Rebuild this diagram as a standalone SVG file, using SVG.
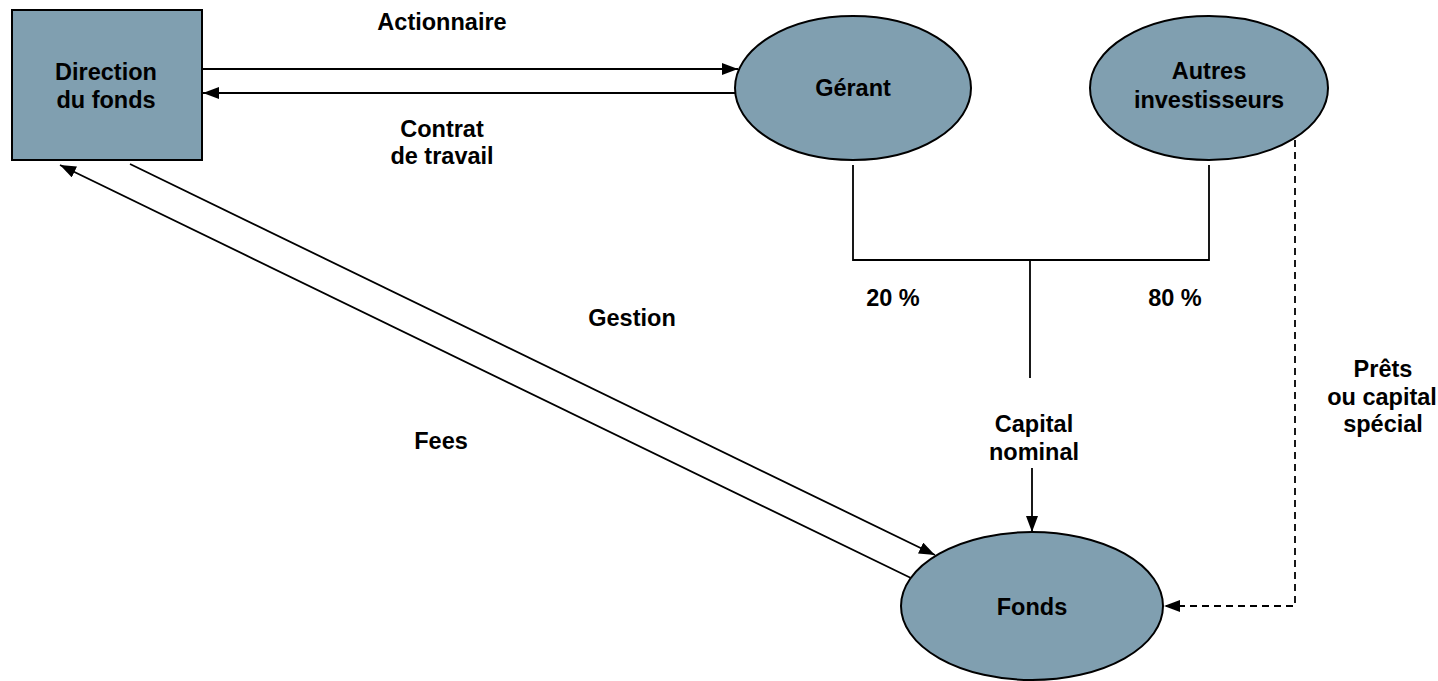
<svg xmlns="http://www.w3.org/2000/svg" width="1438" height="681" viewBox="0 0 1438 681">
<style>
.node{fill:#809FB0;stroke:#000;stroke-width:2}
.t{font-family:"Liberation Sans",Arial,sans-serif;font-weight:bold;font-size:23.5px;fill:#000;text-anchor:middle}
.c{fill:none;stroke:#000;stroke-width:1.8}
.d{fill:none;stroke:#000;stroke-width:1.8;stroke-dasharray:7,5}
</style>
<defs>
<marker id="ah" viewBox="0 0 16 12" refX="16" refY="6" markerWidth="16" markerHeight="12" markerUnits="userSpaceOnUse" orient="auto">
<path d="M0,0 L16,6 L0,12 Z" fill="#000"/>
</marker>
</defs>
<rect width="1438" height="681" fill="#fff"/>
<g id="connectors">
<line class="c" x1="202" y1="69" x2="738" y2="69" marker-end="url(#ah)"/>
<line class="c" x1="735" y1="93" x2="203" y2="93" marker-end="url(#ah)"/>
<line class="c" x1="130" y1="164" x2="935" y2="555" marker-end="url(#ah)"/>
<line class="c" x1="913" y1="579" x2="60" y2="165" marker-end="url(#ah)"/>
<polyline class="c" points="853,165 853,260 1209,260 1209,165"/>
<line class="c" x1="1030" y1="260" x2="1030" y2="378"/>
<line class="c" x1="1032" y1="468" x2="1032" y2="532" marker-end="url(#ah)"/>
<polyline class="d" points="1295,140 1295,606 1164,606" marker-end="url(#ah)"/>
</g>
<g id="direction">
<rect class="node" x="12" y="10" width="190" height="150"/>
<text class="t" x="106" y="80">Direction</text>
<text class="t" x="106" y="108">du fonds</text>
</g>
<g id="gerant">
<ellipse class="node" cx="853" cy="88" rx="118" ry="72"/>
<text class="t" x="853" y="96">Gérant</text>
</g>
<g id="autres">
<ellipse class="node" cx="1209" cy="88" rx="119" ry="72"/>
<text class="t" x="1209" y="79">Autres</text>
<text class="t" x="1209" y="108">investisseurs</text>
</g>
<g id="fonds">
<ellipse class="node" cx="1032" cy="606" rx="131" ry="74"/>
<text class="t" x="1032" y="615">Fonds</text>
</g>
<g id="labels">
<text class="t" x="442" y="30">Actionnaire</text>
<text class="t" x="442" y="137">Contrat</text>
<text class="t" x="442" y="164">de travail</text>
<text class="t" x="632" y="326">Gestion</text>
<text class="t" x="441" y="449">Fees</text>
<text class="t" x="893" y="306">20 %</text>
<text class="t" x="1175" y="306">80 %</text>
<text class="t" x="1034" y="432">Capital</text>
<text class="t" x="1034" y="460">nominal</text>
<text class="t" x="1383" y="377">Prêts</text>
<text class="t" x="1382" y="405">ou capital</text>
<text class="t" x="1383" y="432">spécial</text>
</g>
</svg>
